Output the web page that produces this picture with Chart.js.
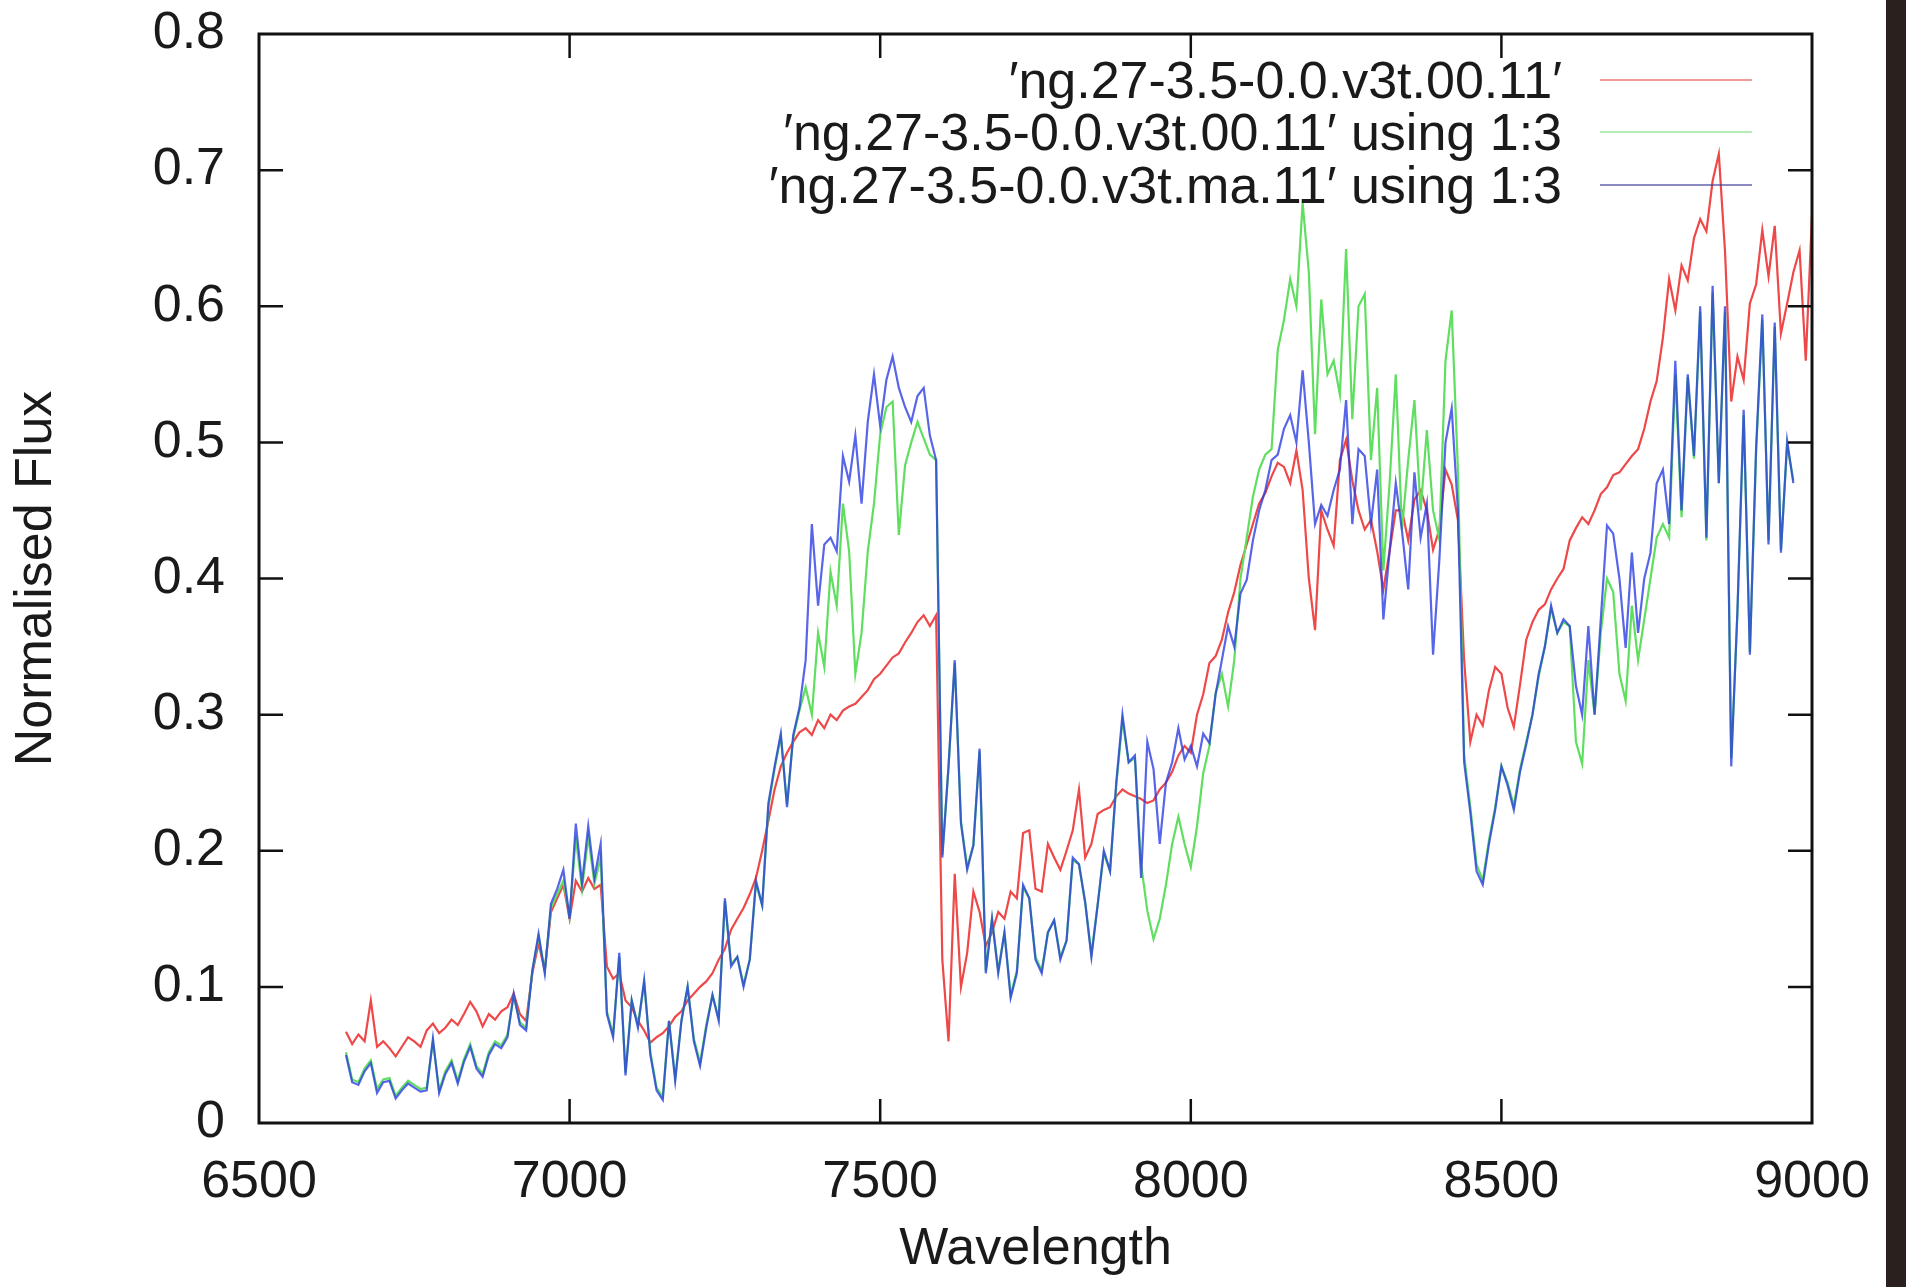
<!DOCTYPE html>
<html>
<head>
<meta charset="utf-8">
<title>Normalised Flux vs Wavelength</title>
<script src="https://cdn.jsdelivr.net/npm/chart.js@4.4.1/dist/chart.umd.min.js"></script>
<style>
  html, body { margin: 0; padding: 0; background: #fff; overflow: hidden; }
  #wrap { position: relative; width: 1906px; height: 1287px; }
  #spectrum { position: absolute; left: 0; top: 0; }
  .key { position: absolute; left: 0; width: 1562px; text-align: right; font-family: "Liberation Sans", Arial, sans-serif; font-size: 52px; line-height: 53px; color: #1a1a1a; white-space: nowrap; }
  .key-line { position: absolute; left: 1600px; width: 152px; height: 2px; }
  #edge { position: absolute; left: 1886px; top: 0; width: 20px; height: 1287px; background: #2a211f; }
</style>
</head>
<body>
<div id="wrap">
  <canvas id="spectrum" width="1906" height="1287"></canvas>
  <div id="legend"></div>
  <div id="edge"></div>
</div>
<script>
const wavelengths = [
  6640, 6650, 6660, 6670, 6680, 6690, 6700, 6710, 6720, 6730,
  6740, 6750, 6760, 6770, 6780, 6790, 6800, 6810, 6820, 6830,
  6840, 6850, 6860, 6870, 6880, 6890, 6900, 6910, 6920, 6930,
  6940, 6950, 6960, 6970, 6980, 6990, 7000, 7010, 7020, 7030,
  7040, 7050, 7060, 7070, 7080, 7090, 7100, 7110, 7120, 7130,
  7140, 7150, 7160, 7170, 7180, 7190, 7200, 7210, 7220, 7230,
  7240, 7250, 7260, 7270, 7280, 7290, 7300, 7310, 7320, 7330,
  7340, 7350, 7360, 7370, 7380, 7390, 7400, 7410, 7420, 7430,
  7440, 7450, 7460, 7470, 7480, 7490, 7500, 7510, 7520, 7530,
  7540, 7550, 7560, 7570, 7580, 7590, 7600, 7610, 7620, 7630,
  7640, 7650, 7660, 7670, 7680, 7690, 7700, 7710, 7720, 7730,
  7740, 7750, 7760, 7770, 7780, 7790, 7800, 7810, 7820, 7830,
  7840, 7850, 7860, 7870, 7880, 7890, 7900, 7910, 7920, 7930,
  7940, 7950, 7960, 7970, 7980, 7990, 8000, 8010, 8020, 8030,
  8040, 8050, 8060, 8070, 8080, 8090, 8100, 8110, 8120, 8130,
  8140, 8150, 8160, 8170, 8180, 8190, 8200, 8210, 8220, 8230,
  8240, 8250, 8260, 8270, 8280, 8290, 8300, 8310, 8320, 8330,
  8340, 8350, 8360, 8370, 8380, 8390, 8400, 8410, 8420, 8430,
  8440, 8450, 8460, 8470, 8480, 8490, 8500, 8510, 8520, 8530,
  8540, 8550, 8560, 8570, 8580, 8590, 8600, 8610, 8620, 8630,
  8640, 8650, 8660, 8670, 8680, 8690, 8700, 8710, 8720, 8730,
  8740, 8750, 8760, 8770, 8780, 8790, 8800, 8810, 8820, 8830,
  8840, 8850, 8860, 8870, 8880, 8890, 8900, 8910, 8920, 8930,
  8940, 8950, 8960, 8970, 8980, 8990, 9000
];

// 'ng.27-3.5-0.0.v3t.00.11' (column 2)
const flux00 = [
  0.067, 0.058, 0.065, 0.060, 0.090, 0.056, 0.060, 0.055, 0.049, 0.056,
  0.063, 0.060, 0.056, 0.068, 0.073, 0.066, 0.070, 0.076, 0.072, 0.080,
  0.089, 0.082, 0.071, 0.080, 0.076, 0.082, 0.085, 0.095, 0.080, 0.075,
  0.110, 0.132, 0.112, 0.155, 0.165, 0.175, 0.150, 0.178, 0.170, 0.180,
  0.172, 0.175, 0.115, 0.106, 0.110, 0.090, 0.085, 0.075, 0.068, 0.059,
  0.063, 0.066, 0.071, 0.078, 0.082, 0.090, 0.095, 0.100, 0.104, 0.110,
  0.120, 0.128, 0.142, 0.150, 0.158, 0.168, 0.180, 0.200, 0.222, 0.245,
  0.262, 0.272, 0.280, 0.287, 0.290, 0.285, 0.296, 0.290, 0.300, 0.296,
  0.303, 0.306, 0.308, 0.313, 0.318, 0.326, 0.330, 0.336, 0.342, 0.345,
  0.353, 0.360, 0.368, 0.373, 0.365, 0.373, 0.120, 0.060, 0.183, 0.100,
  0.125, 0.170, 0.155, 0.130, 0.140, 0.155, 0.150, 0.170, 0.165, 0.213,
  0.215, 0.172, 0.170, 0.205, 0.195, 0.186, 0.200, 0.215, 0.245, 0.195,
  0.205, 0.227, 0.230, 0.232, 0.240, 0.245, 0.242, 0.240, 0.238, 0.235,
  0.237, 0.245, 0.250, 0.258, 0.270, 0.277, 0.272, 0.300, 0.315, 0.338,
  0.343, 0.355, 0.375, 0.390, 0.410, 0.425, 0.440, 0.455, 0.463, 0.475,
  0.485, 0.482, 0.470, 0.494, 0.465, 0.400, 0.362, 0.450, 0.436, 0.424,
  0.487, 0.502, 0.472, 0.450, 0.436, 0.443, 0.420, 0.392, 0.420, 0.450,
  0.450, 0.428, 0.458, 0.465, 0.450, 0.421, 0.436, 0.480, 0.469, 0.443,
  0.340, 0.280, 0.300, 0.292, 0.318, 0.335, 0.330, 0.305, 0.291, 0.322,
  0.355, 0.368, 0.377, 0.381, 0.392, 0.400, 0.407, 0.428, 0.437, 0.445,
  0.440, 0.450, 0.462, 0.467, 0.476, 0.478, 0.484, 0.490, 0.495, 0.510,
  0.530, 0.545, 0.577, 0.620, 0.597, 0.630, 0.619, 0.650, 0.664, 0.655,
  0.692, 0.712, 0.640, 0.530, 0.563, 0.546, 0.602, 0.616, 0.656, 0.622,
  0.659, 0.580, 0.602, 0.625, 0.641, 0.560, 0.667
];

// 'ng.27-3.5-0.0.v3t.00.11' using 1:3
const flux00col3 = [
  0.052, 0.032, 0.030, 0.040, 0.046, 0.025, 0.032, 0.033, 0.020, 0.026,
  0.031, 0.028, 0.025, 0.026, 0.060, 0.024, 0.038, 0.046, 0.031, 0.047,
  0.058, 0.042, 0.036, 0.052, 0.060, 0.057, 0.065, 0.093, 0.074, 0.070,
  0.112, 0.137, 0.112, 0.158, 0.168, 0.178, 0.152, 0.210, 0.172, 0.210,
  0.176, 0.195, 0.082, 0.065, 0.122, 0.037, 0.090, 0.072, 0.103, 0.052,
  0.026, 0.019, 0.075, 0.033, 0.075, 0.100, 0.062, 0.044, 0.072, 0.094,
  0.077, 0.163, 0.117, 0.122, 0.102, 0.120, 0.176, 0.160, 0.232, 0.260,
  0.284, 0.234, 0.283, 0.303, 0.320, 0.300, 0.360, 0.335, 0.405, 0.380,
  0.455, 0.420, 0.330, 0.360, 0.420, 0.455, 0.506, 0.526, 0.530, 0.432,
  0.483, 0.500, 0.515, 0.503, 0.491, 0.487, 0.197, 0.262, 0.338, 0.222,
  0.188, 0.204, 0.273, 0.112, 0.150, 0.112, 0.140, 0.094, 0.112, 0.173,
  0.165, 0.122, 0.112, 0.140, 0.149, 0.122, 0.134, 0.193, 0.190, 0.162,
  0.124, 0.160, 0.198, 0.185, 0.248, 0.296, 0.265, 0.268, 0.190, 0.156,
  0.135, 0.150, 0.175, 0.205, 0.225, 0.205, 0.188, 0.218, 0.257, 0.277,
  0.316, 0.330, 0.306, 0.340, 0.400, 0.430, 0.460, 0.480, 0.491, 0.495,
  0.568, 0.590, 0.620, 0.600, 0.676, 0.625, 0.506, 0.605, 0.550, 0.560,
  0.535, 0.642, 0.517, 0.600, 0.609, 0.487, 0.540, 0.406, 0.470, 0.550,
  0.436, 0.487, 0.531, 0.450, 0.509, 0.450, 0.429, 0.560, 0.597, 0.480,
  0.270, 0.232, 0.190, 0.178, 0.208, 0.232, 0.262, 0.250, 0.233, 0.260,
  0.280, 0.300, 0.328, 0.350, 0.378, 0.360, 0.368, 0.365, 0.280, 0.264,
  0.340, 0.300, 0.360, 0.400, 0.390, 0.330, 0.310, 0.380, 0.340, 0.370,
  0.400, 0.430, 0.440, 0.430, 0.550, 0.445, 0.548, 0.488, 0.596, 0.428,
  0.610, 0.470, 0.596, 0.268, 0.375, 0.520, 0.346, 0.492, 0.590, 0.428,
  0.585, 0.421, 0.498, 0.472, null, null, null
];

// 'ng.27-3.5-0.0.v3t.ma.11' using 1:3
const fluxMa = [
  0.050, 0.030, 0.028, 0.038, 0.044, 0.022, 0.030, 0.031, 0.018, 0.024,
  0.029, 0.026, 0.023, 0.024, 0.062, 0.022, 0.036, 0.044, 0.029, 0.045,
  0.056, 0.040, 0.034, 0.050, 0.058, 0.055, 0.063, 0.095, 0.072, 0.068,
  0.112, 0.139, 0.110, 0.161, 0.172, 0.186, 0.150, 0.220, 0.176, 0.218,
  0.180, 0.205, 0.080, 0.063, 0.125, 0.035, 0.090, 0.070, 0.105, 0.050,
  0.024, 0.017, 0.075, 0.031, 0.075, 0.100, 0.060, 0.042, 0.070, 0.094,
  0.075, 0.165, 0.115, 0.122, 0.100, 0.120, 0.178, 0.160, 0.235, 0.262,
  0.286, 0.232, 0.285, 0.305, 0.340, 0.440, 0.380, 0.425, 0.430, 0.420,
  0.490, 0.471, 0.505, 0.455, 0.515, 0.550, 0.512, 0.546, 0.563, 0.540,
  0.526, 0.515, 0.534, 0.540, 0.505, 0.487, 0.195, 0.262, 0.340, 0.220,
  0.186, 0.204, 0.275, 0.110, 0.150, 0.110, 0.140, 0.092, 0.110, 0.175,
  0.165, 0.120, 0.110, 0.140, 0.149, 0.120, 0.134, 0.195, 0.190, 0.162,
  0.122, 0.160, 0.200, 0.185, 0.250, 0.300, 0.265, 0.270, 0.180, 0.280,
  0.260, 0.205, 0.250, 0.265, 0.290, 0.267, 0.277, 0.262, 0.286, 0.279,
  0.315, 0.340, 0.365, 0.350, 0.389, 0.399, 0.428, 0.450, 0.465, 0.487,
  0.491, 0.510, 0.520, 0.500, 0.553, 0.500, 0.440, 0.454, 0.446, 0.465,
  0.480, 0.531, 0.440, 0.495, 0.490, 0.440, 0.480, 0.370, 0.420, 0.470,
  0.435, 0.392, 0.478, 0.430, 0.455, 0.344, 0.413, 0.500, 0.525, 0.450,
  0.265, 0.228, 0.185, 0.175, 0.205, 0.230, 0.262, 0.248, 0.230, 0.258,
  0.278, 0.300, 0.330, 0.350, 0.380, 0.360, 0.370, 0.365, 0.321, 0.300,
  0.365, 0.300, 0.370, 0.439, 0.433, 0.400, 0.349, 0.419, 0.360, 0.400,
  0.419, 0.470, 0.480, 0.440, 0.560, 0.450, 0.550, 0.490, 0.600, 0.430,
  0.615, 0.470, 0.600, 0.262, 0.377, 0.524, 0.344, 0.496, 0.594, 0.425,
  0.588, 0.419, 0.501, 0.470, null, null, null
];

const seriesLabels = [
  "\u2032ng.27-3.5-0.0.v3t.00.11\u2032",
  "\u2032ng.27-3.5-0.0.v3t.00.11\u2032 using 1:3",
  "\u2032ng.27-3.5-0.0.v3t.ma.11\u2032 using 1:3"
];
const seriesColors = ['rgb(238,72,72)', 'rgb(96,222,96)', 'rgba(40,58,226,0.78)'];
const keyColors = ['rgba(238,72,72,0.55)', 'rgba(96,222,96,0.45)', 'rgba(60,60,150,0.6)'];

const xTicks = [6500, 7000, 7500, 8000, 8500, 9000];
const yTicks = [0, 0.1, 0.2, 0.3, 0.4, 0.5, 0.6, 0.7, 0.8];
const yTickLabels = ['0', '0.1', '0.2', '0.3', '0.4', '0.5', '0.6', '0.7', '0.8'];

const FONT = '"Liberation Sans", Arial, sans-serif';
const INK = '#1a1a1a';

function toPoints(values) {
    return wavelengths.map((w, i) => ({ x: w, y: values[i] }));
}

// gnuplot style box with inward ticks on all four sides
const framePlugin = {
    id: 'frame',
    afterDatasetsDraw(chart) {
        const { ctx, chartArea: a, scales: { x, y } } = chart;
        const len = 24;
        ctx.save();
        ctx.strokeStyle = '#111';
        ctx.lineWidth = 2.5;
        ctx.beginPath();
        x.ticks.forEach(t => {
            const px = x.getPixelForValue(t.value);
            if (px <= a.left + 1 || px >= a.right - 1) return;
            ctx.moveTo(px, a.bottom); ctx.lineTo(px, a.bottom - len);
            ctx.moveTo(px, a.top); ctx.lineTo(px, a.top + len);
        });
        y.ticks.forEach(t => {
            const py = y.getPixelForValue(t.value);
            if (py <= a.top + 1 || py >= a.bottom - 1) return;
            ctx.moveTo(a.left, py); ctx.lineTo(a.left + len, py);
            ctx.moveTo(a.right, py); ctx.lineTo(a.right - len, py);
        });
        ctx.stroke();
        ctx.lineWidth = 3;
        ctx.strokeRect(a.left, a.top, a.right - a.left, a.bottom - a.top);
        ctx.restore();
    }
};

function buildLegend() {
    const box = document.getElementById('legend');
    const centers = [80, 132, 185];
    seriesLabels.forEach((label, i) => {
        const text = document.createElement('div');
        text.className = 'key';
        text.style.top = (centers[i] - 26.5) + 'px';
        text.textContent = label;
        box.appendChild(text);

        const line = document.createElement('div');
        line.className = 'key-line';
        line.style.top = (centers[i] - 1) + 'px';
        line.style.background = keyColors[i];
        box.appendChild(line);
    });
}

function initChart() {
    const ctx = document.getElementById('spectrum').getContext('2d');
    const values = [flux00, flux00col3, fluxMa];

    new Chart(ctx, {
        type: 'line',
        data: {
            datasets: values.map((v, i) => ({
                label: seriesLabels[i],
                data: toPoints(v),
                borderColor: seriesColors[i],
                backgroundColor: seriesColors[i],
                borderWidth: 2.2,
                pointRadius: 0,
                tension: 0,
                fill: false,
                order: 2 - i
            }))
        },
        options: {
            responsive: false,
            animation: false,
            devicePixelRatio: 1,
            layout: { padding: { top: 34, right: 94, left: 0, bottom: 0 } },
            plugins: {
                legend: { display: false },
                tooltip: { enabled: false }
            },
            scales: {
                x: {
                    type: 'linear',
                    min: 6500,
                    max: 9000,
                    afterBuildTicks: s => { s.ticks = xTicks.map(v => ({ value: v })); },
                    afterFit: s => { s.height = 164; },
                    grid: { display: false },
                    border: { display: false },
                    ticks: {
                        font: { family: FONT, size: 52 },
                        color: INK,
                        padding: 20,
                        maxRotation: 0,
                        autoSkip: false,
                        callback: v => String(v)
                    },
                    title: {
                        display: true,
                        text: 'Wavelength',
                        font: { family: FONT, size: 52 },
                        color: INK,
                        padding: { top: 0, bottom: 6 }
                    }
                },
                y: {
                    type: 'linear',
                    min: 0,
                    max: 0.8,
                    afterBuildTicks: s => { s.ticks = yTicks.map(v => ({ value: v })); },
                    afterFit: s => {
                        s.width = 259;
                        s.paddingTop = 0;
                        s.paddingBottom = 0;
                    },
                    grid: { display: false },
                    border: { display: false },
                    ticks: {
                        font: { family: FONT, size: 52 },
                        color: INK,
                        padding: 26,
                        autoSkip: false,
                        callback: (v, i) => yTickLabels[i]
                    },
                    title: {
                        display: true,
                        text: 'Normalised Flux',
                        font: { family: FONT, size: 52 },
                        color: INK,
                        padding: { top: 5, bottom: 0 }
                    }
                }
            }
        },
        plugins: [framePlugin]
    });
}

document.addEventListener('DOMContentLoaded', () => {
    buildLegend();
    initChart();
});
</script>
</body>
</html>
